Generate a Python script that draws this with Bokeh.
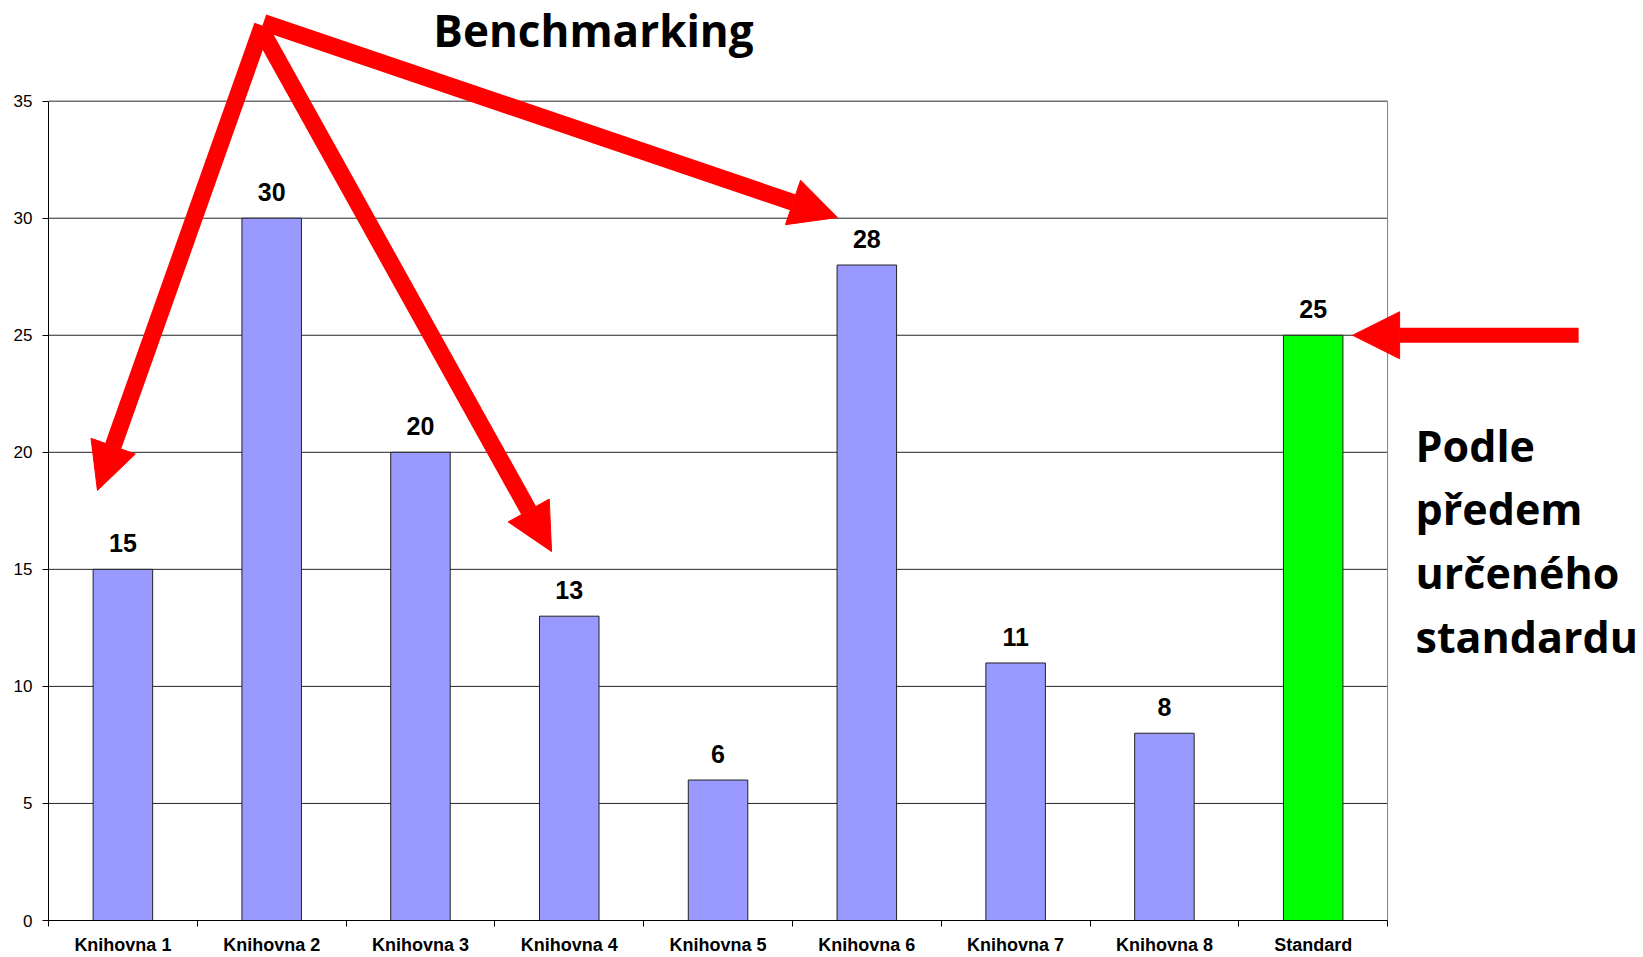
from bokeh.plotting import figure
from bokeh.models import (Range1d, FixedTicker, ColumnDataSource, Arrow, NormalHead)
from bokeh.core.properties import value
from bokeh.embed import file_html
from bokeh.resources import INLINE

# ---- data ----
categories = ["Knihovna 1", "Knihovna 2", "Knihovna 3", "Knihovna 4", "Knihovna 5",
              "Knihovna 6", "Knihovna 7", "Knihovna 8", "Standard"]
values = [15, 30, 20, 13, 6, 28, 11, 8, 25]
bar_colors = ["#9999FF"] * 8 + ["#00FF00"]
y_ticks = [0, 5, 10, 15, 20, 25, 30, 35]
title_text = "Benchmarking"
side_lines = ["Podle", "předem", "určeného", "standardu"]

# arrows (data units: x in category slots, y in value units)
arrow_x_start = [1.438, 1.425, 1.445]
arrow_y_start = [38.23, 38.10, 38.36]
arrow_x_end = [0.329, 3.381, 5.303]
arrow_y_end = [18.37, 15.76, 30.03]
std_arrow = dict(x_start=10.284, y_start=25.0, x_end=8.765, y_end=25.0)

n = len(categories)
centers = [i + 0.5 for i in range(n)]

p = figure(width=1643, height=957, output_backend="svg", toolbar_location=None,
           x_range=Range1d(0, 10.72), y_range=Range1d(0, 39.30),
           min_border_left=48, min_border_right=0, min_border_top=0, min_border_bottom=37)
p.outline_line_color = None
p.xgrid.visible = False
p.ygrid.visible = False
p.background_fill_color = "white"

# grid lines inside chart area
grid_y = [t for t in y_ticks if t > 0]
p.segment(x0=[0] * len(grid_y), y0=grid_y, x1=[n] * len(grid_y), y1=grid_y,
          line_color="#262626", line_width=1)
# right border
p.segment(x0=[n], y0=[0], x1=[n], y1=[max(y_ticks)], line_color="#808080", line_width=1)

# bars
src = ColumnDataSource(dict(x=centers, top=values, color=bar_colors,
                            label=[str(v) for v in values]))
p.vbar(x="x", top="top", width=0.4, bottom=0, source=src, fill_color="color",
       line_color="#222222", line_width=1)
p.text(x="x", y="top", text="label", source=src, y_offset=-26,
       text_align="center", text_baseline="middle",
       text_font=value("Liberation Sans"), text_font_style="bold",
       text_font_size="25px", text_color="black")

# axes
xa = p.xaxis[0]
xa.bounds = (0, n)
xa.ticker = FixedTicker(ticks=centers, minor_ticks=list(range(n + 1)))
xa.major_label_overrides = {c: lab for c, lab in zip(centers, categories)}
xa.major_tick_out = 0
xa.major_tick_in = 0
xa.minor_tick_out = 6
xa.minor_tick_in = 0
xa.minor_tick_line_color = "black"
xa.axis_line_color = "black"
xa.major_label_standoff = 8
xa.major_label_text_font = "Liberation Sans"
xa.major_label_text_font_style = "bold"
xa.major_label_text_font_size = "18px"
xa.major_label_text_color = "black"

ya = p.yaxis[0]
ya.bounds = (0, max(y_ticks))
ya.ticker = FixedTicker(ticks=y_ticks, minor_ticks=[])
ya.major_tick_out = 6
ya.major_tick_in = 0
ya.minor_tick_out = 0
ya.axis_line_color = "black"
ya.major_tick_line_color = "black"
ya.major_label_standoff = 10
ya.major_label_text_font = "Liberation Sans"
ya.major_label_text_font_size = "17px"
ya.major_label_text_color = "black"

# arrows
head_kw = dict(size=47, fill_color="#FF0000", line_color="#FF0000", line_width=1)
asrc = ColumnDataSource(dict(x0=arrow_x_start, y0=arrow_y_start, x1=arrow_x_end, y1=arrow_y_end))
p.add_layout(Arrow(end=NormalHead(**head_kw), x_start="x0", y_start="y0", x_end="x1", y_end="y1",
                   source=asrc, line_color="#FF0000", line_width=17))
p.add_layout(Arrow(end=NormalHead(**head_kw), line_color="#FF0000", line_width=15, **std_arrow))

# texts
p.text(x=[3.663], y=[38.05], text=[title_text], text_align="center", text_baseline="alphabetic",
       text_font=value("Open Sans"), text_font_style="bold", text_font_size="44px",
       text_color="black")
side_y = [20.31 - 2.73 * i for i in range(len(side_lines))]
p.text(x=[9.188] * len(side_lines), y=side_y, text=side_lines, text_align="left",
       text_baseline="alphabetic", text_font=value("Open Sans"), text_font_style="bold",
       text_font_size="43px", text_color="black")

open("out.html", "w").write(file_html(p, INLINE))
